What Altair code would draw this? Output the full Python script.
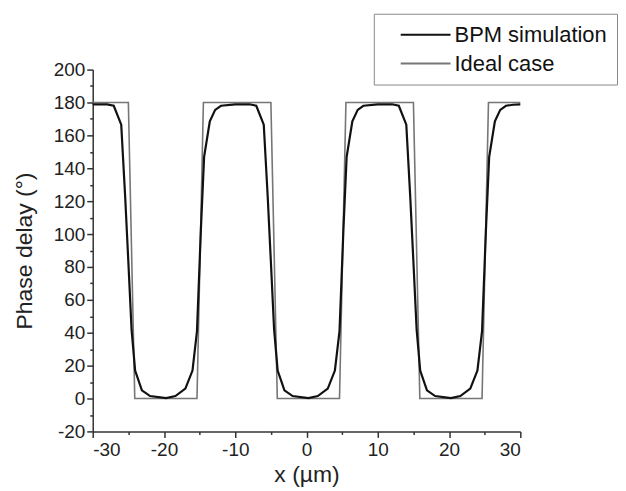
import altair as alt
import pandas as pd

# ---- data ----
series_names = ["BPM simulation", "Ideal case"]
series_colors = ["#111111", "#767676"]

bpm_x = [-30, -29, -28, -27.05, -26.0, -25.45, -25.0, -24.55, -24.05, -23.1, -21.95, -19.7,
         -18.4, -17.0, -16.0, -15.37, -14.82, -14.37, -13.57, -12.82, -12.0,
         -10.0, -8.0,
         -7.05, -6.0, -5.45, -5.0, -4.55, -4.05, -3.1, -1.95, 0.27,
         1.58, 2.98, 3.98, 4.63, 5.18, 5.63, 6.43, 7.18, 7.98,
         10.0, 12.0,
         12.95, 14.0, 14.55, 15.0, 15.45, 15.95, 16.9, 18.05, 20.27,
         21.58, 22.98, 23.98, 24.63, 25.18, 25.63, 26.43, 27.18, 27.98,
         29.0, 30.0]
bpm_y = [178.8, 178.9, 178.8, 178.0, 166.5, 123, 83, 42, 17, 5, 1.5, 0.2,
         1.5, 6, 17, 41, 103, 147, 168.5, 175.5, 178.0,
         178.8, 178.9,
         178.0, 166.5, 123, 83, 42, 17, 5, 1.5, 0.2,
         1.5, 6, 17, 41, 103, 147, 168.5, 175.5, 178.0,
         178.8, 178.9,
         178.0, 166.5, 123, 83, 42, 17, 5, 1.5, 0.2,
         1.5, 6, 17, 41, 103, 147, 168.5, 175.5, 178.0,
         178.6, 178.8]

ideal_x = [-30, -25.0, -24.1, -15.37, -14.47, -5.0, -4.1, 4.63, 5.53, 15.0, 15.9, 24.63, 25.53, 30]
ideal_y = [180, 180, 0, 0, 180, 180, 0, 0, 180, 180, 0, 0, 180, 180]

x_major = [-30, -20, -10, 0, 10, 20, 30]
x_minor = [-25, -15, -5, 5, 15, 25]
y_major = [-20, 0, 20, 40, 60, 80, 100, 120, 140, 160, 180, 200]
y_minor = [-10, 10, 30, 50, 70, 90, 110, 130, 150, 170, 190]

df_bpm = pd.DataFrame({"x": bpm_x, "y": bpm_y, "series": series_names[0]})
df_ideal = pd.DataFrame({"x": ideal_x, "y": ideal_y, "series": series_names[1]})

FONT = "Liberation Sans"
AX = "#333333"
PLAIN = "'' + datum.value"

xscale = alt.Scale(domain=[-30, 30], nice=False, zero=False)
yscale = alt.Scale(domain=[-20, 200], nice=False, zero=False)

color = alt.Color(
    "series:N",
    scale=alt.Scale(domain=series_names, range=series_colors),
    legend=alt.Legend(
        orient="none", legendX=282, legendY=-56, title=None,
        symbolType="stroke", symbolSize=2500, symbolStrokeWidth=2,
        labelFont=FONT, labelFontSize=22, labelColor="#111111",
        strokeColor="#8a8a8a", fillColor="white", padding=10,
        rowPadding=7, clipHeight=22, symbolOffset=16, labelOffset=3,
    ),
)

x_major_axis = alt.Axis(values=x_major, orient="bottom", title="x (µm)", grid=False,
                        tickSize=6, labelPadding=3, titlePadding=4, labelExpr=PLAIN)
x_minor_axis = alt.Axis(values=x_minor, orient="bottom", title=None, labels=False,
                        grid=False, domain=False, tickSize=3)
y_major_axis = alt.Axis(values=y_major, orient="left", title="Phase delay (°)", grid=False,
                        tickSize=6, labelPadding=2, titlePadding=17, labelExpr=PLAIN)
y_minor_axis = alt.Axis(values=y_minor, orient="left", title=None, labels=False,
                        grid=False, domain=False, tickSize=3)

ideal = alt.Chart(df_ideal).mark_line(strokeWidth=1.6).encode(
    x=alt.X("x:Q", scale=xscale, axis=x_major_axis),
    y=alt.Y("y:Q", scale=yscale, axis=y_major_axis),
    color=color,
)
bpm = alt.Chart(df_bpm).mark_line(strokeWidth=2.2).encode(
    x=alt.X("x:Q", scale=xscale, axis=x_minor_axis),
    y=alt.Y("y:Q", scale=yscale, axis=y_minor_axis),
    color=color,
)

chart = (
    alt.layer(ideal, bpm)
    .resolve_axis(x="independent", y="independent")
    .properties(width=429, height=363,
                padding={"left": 5, "top": 4, "right": 0, "bottom": 0})
    .configure_view(stroke=None)
    .configure_axis(
        labelFont=FONT, labelFontSize=19, labelColor="#222222",
        titleFont=FONT, titleFontSize=23, titleFontWeight="normal", titleColor="#222222",
        domainColor=AX, domainWidth=1.5, tickColor=AX, tickWidth=1.5,
    )
)

chart.save("out.html", embed_options={"renderer": "svg", "actions": False})
